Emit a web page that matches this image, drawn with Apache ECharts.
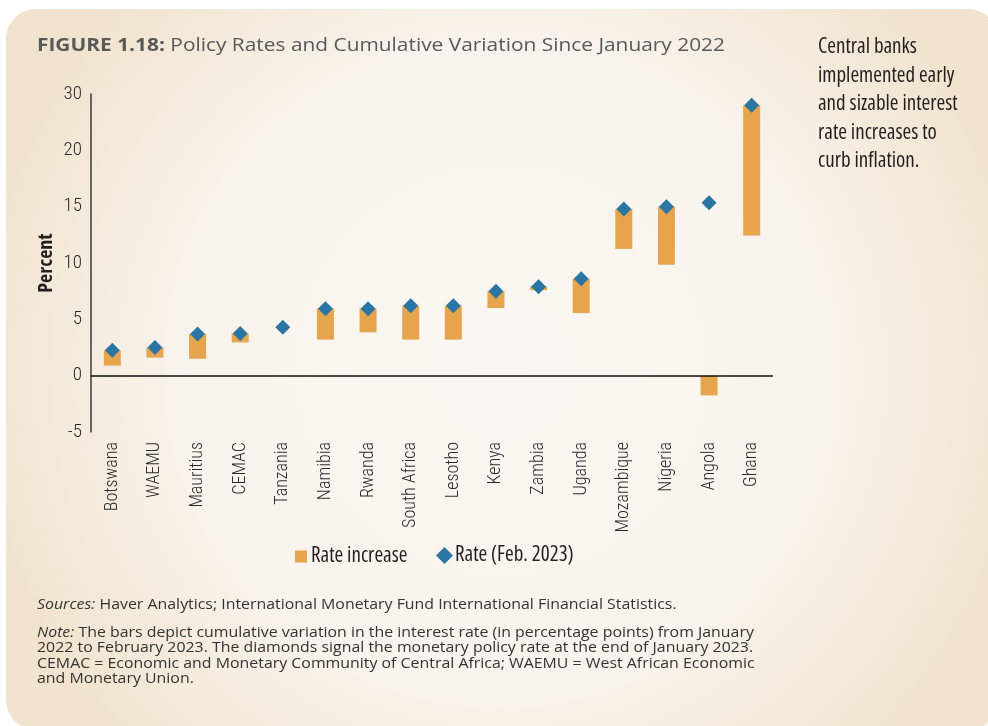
<!DOCTYPE html>
<html>
<head>
<meta charset="utf-8">
<script src="https://cdn.jsdelivr.net/npm/echarts@6/dist/echarts.min.js"></script>
<style>
html,body{margin:0;padding:0;background:#ffffff;}
#chart{width:988px;height:726px;}
</style>
</head>
<body>
<div id="chart"></div>
<script>
// ---- data ----
var categories = ['Botswana','WAEMU','Mauritius','CEMAC','Tanzania','Namibia','Rwanda','South Africa','Lesotho','Kenya','Zambia','Uganda','Mozambique','Nigeria','Angola','Ghana'];
var rateFeb2023 = [2.25, 2.5, 3.7, 3.75, 4.3, 5.95, 5.95, 6.2, 6.2, 7.5, 7.9, 8.6, 14.8, 15.0, 15.35, 28];
var rateIncrease = [1.35, 0.9, 2.2, 0.8, 0, 2.75, 2.1, 3.0, 3.0, 1.5, 0.3, 3.05, 3.55, 5.15, -1.75, 15.55];
var yTickValues = [-5, 0, 5, 10, 15, 20, 25];
var yTickLabels = ['-5', '0', '5', '10', '15', '20', '30'];
var titleBold = 'FIGURE 1.18:';
var titleText = 'Policy Rates and Cumulative Variation Since January 2022';
var sideNote = ['Central banks', 'implemented early', 'and sizable interest', 'rate increases to', 'curb inflation.'];
var sourcesText = 'Haver Analytics; International Monetary Fund International Financial Statistics.';
var noteLines = [
  'The bars depict cumulative variation in the interest rate (in percentage points) from January',
  '2022 to February 2023. The diamonds signal the monetary policy rate at the end of January 2023.',
  'CEMAC = Economic and Monetary Community of Central Africa; WAEMU = West African Economic',
  'and Monetary Union.'
];

// axis above 20 is compressed: the segment 20-30 is drawn like 20-25
function toAxis(v) { return v <= 20 ? v : 20 + (v - 20) / 2; }

var baseVals = [], incVals = [], rateVals = [];
for (var i = 0; i < categories.length; i++) {
  var r = rateFeb2023[i], inc = rateIncrease[i];
  rateVals.push(toAxis(r));
  if (inc >= 0) {
    var b = toAxis(r - inc);
    baseVals.push(b);
    incVals.push(toAxis(r) - b);
  } else {
    baseVals.push(toAxis(r - inc));
    incVals.push(inc);
  }
}

var OS = '"Open Sans", "Noto Sans", sans-serif';
var RB = 'Roboto, "Open Sans", sans-serif';

var chart = echarts.init(document.getElementById('chart'), null, {renderer: 'canvas'});

var graphics = [
  {
    type: 'rect', z: -10, silent: true,
    shape: {x: 6, y: 9, width: 992, height: 721, r: 30},
    style: {
      fill: new echarts.graphic.RadialGradient(0.5, 0.5, 0.75, [
        {offset: 0, color: '#faf7f2'},
        {offset: 0.6, color: '#f8f3ec'},
        {offset: 1, color: '#f1e3cd'}
      ])
    }
  },
  {
    type: 'text', x: 37, y: 46, scaleX: 1.16, silent: true,
    style: {
      text: '{b|' + titleBold + '} ' + titleText,
      font: '18px ' + OS, fill: '#58595b', verticalAlign: 'middle',
      rich: {b: {fontFamily: OS, fontSize: 18, fontWeight: 'bold', fill: '#58595b'}}
    }
  },
  {
    type: 'text', x: 37, y: 598, scaleX: 1.135, silent: true,
    style: {
      text: '{i|Sources:} ' + sourcesText,
      font: '14px ' + OS, fill: '#333333',
      rich: {i: {fontStyle: 'italic', fontFamily: OS, fontSize: 14, fill: '#333333'}}
    }
  },
  {
    type: 'text', x: 37, y: 625, scaleX: 1.135, silent: true,
    style: {
      text: '{i|Note:} ' + noteLines.join('\n'),
      font: '14px ' + OS, fill: '#333333', lineHeight: 15.5,
      rich: {i: {fontStyle: 'italic', fontFamily: OS, fontSize: 14, fill: '#333333', lineHeight: 15.5}}
    }
  },
  {
    type: 'text', x: 818, y: 33, silent: true,
    style: {
      text: sideNote.join('\n'),
      font: 'condensed normal 21px ' + OS, fill: '#231f20', lineHeight: 28.5
    }
  }
];

var option = {
  backgroundColor: 'transparent',
  animation: false,
  legend: [
    {
      data: [{name: 'Rate increase', icon: 'rect'}],
      left: 290, top: 541, itemWidth: 12, itemHeight: 12, itemGap: 4,
      textStyle: {fontFamily: OS, fontStyle: 'condensed', fontSize: 21, color: '#231f20', padding: [0, 0, 0, -1]},
      selectedMode: false
    },
    {
      data: [{name: 'Rate (Feb. 2023)', icon: 'diamond'}],
      left: 431, top: 540, itemWidth: 17, itemHeight: 17, itemGap: 4,
      textStyle: {fontFamily: OS, fontStyle: 'condensed', fontSize: 21, color: '#231f20', padding: [0, 0, 0, -3]},
      selectedMode: false
    }
  ],
  graphic: graphics,
  grid: {left: 91, right: 215, top: 94, bottom: 294, containLabel: false},
  xAxis: {
    type: 'category',
    data: categories,
    axisLine: {show: false, onZero: false},
    axisTick: {show: false},
    axisLabel: {
      rotate: 90, margin: 10, interval: 0,
      fontFamily: RB, fontStyle: 'condensed', fontWeight: 300, fontSize: 18, color: '#2a2a2a'
    }
  },
  yAxis: {
    type: 'value',
    min: -5, max: 25, interval: 5,
    name: 'Percent', nameLocation: 'middle', nameGap: 35, nameRotate: 90,
    nameMoveOverlap: false,
    nameTextStyle: {fontFamily: OS, fontStyle: 'condensed', fontSize: 20, fontWeight: 'bold', color: '#231f20'},
    axisLine: {show: true, onZero: false, lineStyle: {color: '#3a3a3a', width: 1.5}},
    axisTick: {show: false},
    splitLine: {show: false},
    axisLabel: {
      margin: 9, fontFamily: RB, fontStyle: 'condensed', fontWeight: 300, fontSize: 19, color: '#2a2a2a',
      formatter: function (v) {
        var k = yTickValues.indexOf(v);
        return k >= 0 ? yTickLabels[k] : '';
      }
    }
  },
  series: [
    {
      name: 'base', type: 'bar', stack: 'r', barWidth: 17,
      itemStyle: {color: 'transparent'},
      emphasis: {disabled: true}, silent: true,
      data: baseVals
    },
    {
      name: 'Rate increase', type: 'bar', stack: 'r', barWidth: 17,
      itemStyle: {color: '#e6a44d'},
      data: incVals,
      markLine: {
        silent: true, symbol: 'none', label: {show: false},
        lineStyle: {color: '#111111', width: 1.5, type: 'solid'},
        data: [{yAxis: 0}]
      }
    },
    {
      name: 'Rate (Feb. 2023)', type: 'scatter', symbol: 'diamond', symbolSize: 15,
      itemStyle: {color: '#2a75a2', opacity: 1},
      z: 5,
      data: rateVals
    }
  ]
};
chart.setOption(option);
</script>
</body>
</html>
